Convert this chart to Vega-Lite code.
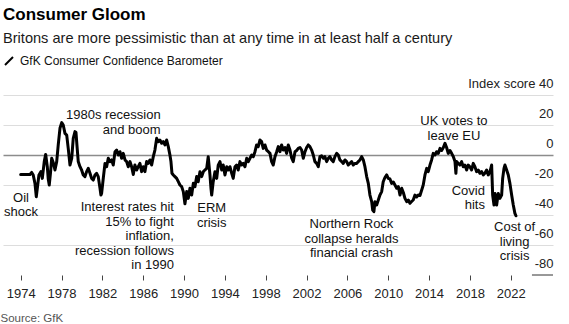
{
  "$schema": "https://vega.github.io/schema/vega-lite/v6.json",
  "width": 550,
  "height": 180,
  "autosize": {"type": "none"},
  "padding": {"left": 3, "top": 95, "right": 16, "bottom": 49},
  "background": "white",
  "config": {
    "font": "Liberation Sans",
    "view": {"stroke": null}
  },
  "title": {
    "text": "Consumer Gloom",
    "subtitle": "Britons are more pessimistic than at any time in at least half a century",
    "anchor": "start",
    "frame": "group",
    "fontSize": 17,
    "fontWeight": "bold",
    "color": "#000000",
    "subtitleFontSize": 14.6,
    "subtitleColor": "#1a1a1a",
    "subtitlePadding": 7,
    "offset": 8
  },
  "datasets": {
    "series": [
      {"year": 1974.0, "index": -13}, {"year": 1974.42, "index": -13}, {"year": 1974.91, "index": -13}, {"year": 1975.08, "index": -11.6}, {"year": 1975.23, "index": -13.3}, {"year": 1975.4, "index": -18.9}, {"year": 1975.53, "index": -27.8}, {"year": 1975.67, "index": -20}, {"year": 1975.79, "index": -13.3}, {"year": 1975.99, "index": -11.1}, {"year": 1976.12, "index": -15.6}, {"year": 1976.31, "index": -4.4}, {"year": 1976.45, "index": 0.4}, {"year": 1976.61, "index": -7.8}, {"year": 1976.7, "index": -16}, {"year": 1976.8, "index": -20}, {"year": 1976.92, "index": -12}, {"year": 1977.04, "index": -2.2}, {"year": 1977.19, "index": -5}, {"year": 1977.36, "index": -10}, {"year": 1977.53, "index": -4.4}, {"year": 1977.68, "index": 6.7}, {"year": 1977.85, "index": 17.8}, {"year": 1978.02, "index": 21.6}, {"year": 1978.17, "index": 20}, {"year": 1978.34, "index": 14.4}, {"year": 1978.51, "index": 13.3}, {"year": 1978.66, "index": 4.4}, {"year": 1978.83, "index": -6.7}, {"year": 1979.0, "index": -2.2}, {"year": 1979.15, "index": 11.1}, {"year": 1979.32, "index": 15.6}, {"year": 1979.42, "index": 15}, {"year": 1979.51, "index": 6.7}, {"year": 1979.64, "index": -4.4}, {"year": 1979.81, "index": -7.8}, {"year": 1979.97, "index": -10}, {"year": 1980.13, "index": -13.3}, {"year": 1980.3, "index": -14.4}, {"year": 1980.46, "index": -11.1}, {"year": 1980.62, "index": -8.9}, {"year": 1980.79, "index": -12.2}, {"year": 1980.95, "index": -15.6}, {"year": 1981.11, "index": -16.7}, {"year": 1981.28, "index": -13.3}, {"year": 1981.44, "index": -12.2}, {"year": 1981.6, "index": -14.4}, {"year": 1981.77, "index": -22.2}, {"year": 1981.86, "index": -26.7},
      {"year": 1981.93, "index": -25.6}, {"year": 1982.1, "index": -15}, {"year": 1982.26, "index": -5.6}, {"year": 1982.42, "index": -7.8}, {"year": 1982.58, "index": -2.2}, {"year": 1982.75, "index": -4.4}, {"year": 1982.91, "index": -3.3}, {"year": 1983.07, "index": -6.7}, {"year": 1983.24, "index": 2.2}, {"year": 1983.4, "index": 3.3}, {"year": 1983.56, "index": 0}, {"year": 1983.73, "index": 2.2}, {"year": 1983.89, "index": -2.2}, {"year": 1984.05, "index": 1.1}, {"year": 1984.22, "index": -3.3}, {"year": 1984.38, "index": -4.4}, {"year": 1984.54, "index": -7.8}, {"year": 1984.71, "index": -4.4}, {"year": 1984.87, "index": -7.8}, {"year": 1985.03, "index": -13}, {"year": 1985.19, "index": -6.7}, {"year": 1985.36, "index": -10}, {"year": 1985.52, "index": -7.8}, {"year": 1985.68, "index": -5.6}, {"year": 1985.85, "index": -11.1}, {"year": 1986.01, "index": -7.8}, {"year": 1986.17, "index": -11.1}, {"year": 1986.34, "index": -4.4}, {"year": 1986.5, "index": -5.6}, {"year": 1986.66, "index": -3.3}, {"year": 1986.83, "index": -6.7}, {"year": 1986.99, "index": -1.1}, {"year": 1987.15, "index": 3.3}, {"year": 1987.32, "index": 11.1}, {"year": 1987.48, "index": 8.9}, {"year": 1987.64, "index": 10}, {"year": 1987.81, "index": 7.8}, {"year": 1987.97, "index": 8.9}, {"year": 1988.13, "index": 6.7}, {"year": 1988.3, "index": 10}, {"year": 1988.46, "index": 5.6}, {"year": 1988.62, "index": 0}, {"year": 1988.72, "index": -4.4}, {"year": 1988.82, "index": -12.2}, {"year": 1988.95, "index": -13.3}, {"year": 1989.11, "index": -14.4}, {"year": 1989.28, "index": -15.6}, {"year": 1989.44, "index": -17.8}, {"year": 1989.6, "index": -20}, {"year": 1989.77, "index": -21.1}, {"year": 1989.93, "index": -24.4},
      {"year": 1990.09, "index": -32.5}, {"year": 1990.26, "index": -24.4}, {"year": 1990.42, "index": -28.9}, {"year": 1990.58, "index": -22.2}, {"year": 1990.75, "index": -26.7}, {"year": 1990.91, "index": -18.9}, {"year": 1991.07, "index": -21.1}, {"year": 1991.24, "index": -14.4}, {"year": 1991.39, "index": -17.8}, {"year": 1991.56, "index": -11.1}, {"year": 1991.73, "index": -14.4}, {"year": 1991.9, "index": -11}, {"year": 1992.05, "index": -10}, {"year": 1992.22, "index": -8.9}, {"year": 1992.37, "index": -1.1}, {"year": 1992.54, "index": -13.3}, {"year": 1992.64, "index": -22.2}, {"year": 1992.71, "index": -26.7}, {"year": 1992.86, "index": -17.8}, {"year": 1993.03, "index": -11.1}, {"year": 1993.2, "index": -15.6}, {"year": 1993.35, "index": -6.7}, {"year": 1993.52, "index": -4.4}, {"year": 1993.69, "index": -10}, {"year": 1993.84, "index": -6.7}, {"year": 1994.01, "index": -13.3}, {"year": 1994.18, "index": -7.8}, {"year": 1994.34, "index": -10}, {"year": 1994.5, "index": -7.8}, {"year": 1994.67, "index": -12.2}, {"year": 1994.82, "index": -15.6}, {"year": 1994.99, "index": -7.8}, {"year": 1995.15, "index": -6.7}, {"year": 1995.31, "index": -10}, {"year": 1995.48, "index": -4.4}, {"year": 1995.64, "index": -6.7}, {"year": 1995.8, "index": -5.6}, {"year": 1995.97, "index": -7.8}, {"year": 1996.14, "index": -2.2}, {"year": 1996.3, "index": -4.4}, {"year": 1996.46, "index": -2.2}, {"year": 1996.63, "index": 0}, {"year": 1996.79, "index": -1.1}, {"year": 1996.95, "index": 2.2}, {"year": 1997.11, "index": 6.7}, {"year": 1997.27, "index": 5.6}, {"year": 1997.44, "index": 10}, {"year": 1997.6, "index": 8.9}, {"year": 1997.76, "index": 4.4}, {"year": 1997.93, "index": 6.7}, {"year": 1998.09, "index": 3.3}, {"year": 1998.26, "index": 2.2}, {"year": 1998.42, "index": 1.1}, {"year": 1998.58, "index": -4.4},
      {"year": 1998.74, "index": -6.7}, {"year": 1998.91, "index": -1.1}, {"year": 1999.07, "index": 2}, {"year": 1999.23, "index": 5.6}, {"year": 1999.4, "index": 2.2}, {"year": 1999.56, "index": 6.7}, {"year": 1999.72, "index": 3.3}, {"year": 1999.89, "index": 5}, {"year": 2000.05, "index": 1.1}, {"year": 2000.21, "index": 6.7}, {"year": 2000.38, "index": 3.3}, {"year": 2000.54, "index": -2}, {"year": 2000.7, "index": -4.4}, {"year": 2000.87, "index": 2.2}, {"year": 2001.03, "index": 3}, {"year": 2001.19, "index": 4.4}, {"year": 2001.36, "index": 5}, {"year": 2001.52, "index": 3.3}, {"year": 2001.68, "index": -2.2}, {"year": 2001.85, "index": 2.2}, {"year": 2002.01, "index": 5}, {"year": 2002.17, "index": 6.7}, {"year": 2002.33, "index": 5.6}, {"year": 2002.5, "index": 3.3}, {"year": 2002.66, "index": 0}, {"year": 2002.82, "index": -4.4}, {"year": 2002.99, "index": -5.6}, {"year": 2003.15, "index": -7.8}, {"year": 2003.31, "index": -1.1}, {"year": 2003.48, "index": -0.5}, {"year": 2003.64, "index": -2.2}, {"year": 2003.8, "index": -1.1}, {"year": 2003.97, "index": -4.4}, {"year": 2004.13, "index": -2.2}, {"year": 2004.29, "index": -1.1}, {"year": 2004.46, "index": -3.3}, {"year": 2004.62, "index": -4.4}, {"year": 2004.78, "index": -1.1}, {"year": 2004.95, "index": 1.1}, {"year": 2005.11, "index": 0}, {"year": 2005.27, "index": -3.3}, {"year": 2005.44, "index": -4.4}, {"year": 2005.6, "index": -5.6}, {"year": 2005.76, "index": -3.3}, {"year": 2005.93, "index": -4.4}, {"year": 2006.09, "index": -6.7}, {"year": 2006.25, "index": -5.6}, {"year": 2006.42, "index": -4.4}, {"year": 2006.58, "index": -6.7}, {"year": 2006.74, "index": -5.6},
      {"year": 2006.91, "index": -5.6}, {"year": 2007.07, "index": -4.4}, {"year": 2007.23, "index": -3.3}, {"year": 2007.4, "index": -1.1}, {"year": 2007.56, "index": -3.3}, {"year": 2007.72, "index": -7.8}, {"year": 2007.89, "index": -14.4}, {"year": 2008.05, "index": -18.9}, {"year": 2008.21, "index": -26.7}, {"year": 2008.38, "index": -31.1}, {"year": 2008.48, "index": -36.7}, {"year": 2008.6, "index": -37.8}, {"year": 2008.7, "index": -31.1}, {"year": 2008.87, "index": -33.3}, {"year": 2009.03, "index": -30}, {"year": 2009.19, "index": -26.7}, {"year": 2009.36, "index": -24.4}, {"year": 2009.51, "index": -17.8}, {"year": 2009.68, "index": -15}, {"year": 2009.85, "index": -13.3}, {"year": 2010.0, "index": -15.6}, {"year": 2010.17, "index": -16}, {"year": 2010.34, "index": -18.9}, {"year": 2010.5, "index": -18}, {"year": 2010.66, "index": -20}, {"year": 2010.83, "index": -22.2}, {"year": 2010.99, "index": -21}, {"year": 2011.15, "index": -26.7}, {"year": 2011.32, "index": -22.2}, {"year": 2011.48, "index": -25}, {"year": 2011.64, "index": -28.9}, {"year": 2011.81, "index": -31.1}, {"year": 2011.97, "index": -30}, {"year": 2012.13, "index": -32.2}, {"year": 2012.29, "index": -31}, {"year": 2012.45, "index": -30}, {"year": 2012.62, "index": -26.7}, {"year": 2012.78, "index": -28}, {"year": 2012.94, "index": -26.7}, {"year": 2013.11, "index": -27}, {"year": 2013.28, "index": -23.3}, {"year": 2013.43, "index": -20}, {"year": 2013.6, "index": -13.3}, {"year": 2013.77, "index": -8.9}, {"year": 2013.92, "index": -11.1}, {"year": 2014.09, "index": -6.7}, {"year": 2014.25, "index": -3.3}, {"year": 2014.41, "index": 1.1}, {"year": 2014.58, "index": 0}, {"year": 2014.74, "index": 2.2}, {"year": 2014.9, "index": 1}, {"year": 2015.07, "index": 4.4}, {"year": 2015.23, "index": 3}, {"year": 2015.4, "index": 5}, {"year": 2015.56, "index": 7.8},
      {"year": 2015.72, "index": 5}, {"year": 2015.88, "index": 1.1}, {"year": 2016.05, "index": 3}, {"year": 2016.21, "index": 1.1}, {"year": 2016.37, "index": -1}, {"year": 2016.54, "index": -4.4}, {"year": 2016.63, "index": -12.2}, {"year": 2016.7, "index": -4.4}, {"year": 2016.86, "index": -5.6}, {"year": 2017.02, "index": -6.7}, {"year": 2017.19, "index": -4.4}, {"year": 2017.35, "index": -7.8}, {"year": 2017.51, "index": -6.7}, {"year": 2017.68, "index": -10}, {"year": 2017.84, "index": -6.7}, {"year": 2018.0, "index": -7.8}, {"year": 2018.17, "index": -10}, {"year": 2018.33, "index": -5.6}, {"year": 2018.49, "index": -7.8}, {"year": 2018.66, "index": -11.1}, {"year": 2018.82, "index": -10}, {"year": 2018.98, "index": -12.2}, {"year": 2019.15, "index": -11.1}, {"year": 2019.31, "index": -13.3}, {"year": 2019.47, "index": -12.2}, {"year": 2019.64, "index": -10}, {"year": 2019.8, "index": -13.3}, {"year": 2019.97, "index": -11.1}, {"year": 2020.13, "index": -6.7}, {"year": 2020.23, "index": -26.7}, {"year": 2020.36, "index": -33.3}, {"year": 2020.46, "index": -25.6}, {"year": 2020.62, "index": -33.3}, {"year": 2020.78, "index": -25.6}, {"year": 2020.94, "index": -28.9}, {"year": 2021.11, "index": -26.7}, {"year": 2021.21, "index": -15.6}, {"year": 2021.34, "index": -8.9}, {"year": 2021.43, "index": -6.7}, {"year": 2021.6, "index": -10}, {"year": 2021.76, "index": -13.3}, {"year": 2021.92, "index": -18.9}, {"year": 2022.09, "index": -26.7}, {"year": 2022.25, "index": -33.3}, {"year": 2022.41, "index": -38.9}, {"year": 2022.51, "index": -40.5}
    ],
    "notesCenter": [
      {"year": 1974.03, "index": -31.1, "note": "Oil\nshock"},
      {"year": 1992.71, "index": -38, "note": "ERM\ncrisis"},
      {"year": 2006.4, "index": -48.7, "note": "Northern Rock\ncollapse heralds\nfinancial crash"},
      {"year": 2016.44, "index": 19.7, "note": "UK votes to\nleave EU"},
      {"year": 2022.38, "index": -50.9, "note": "Cost of\nliving\ncrisis"}
    ],
    "notesRight": [
      {"year": 1987.71, "index": 24, "note": "1980s recession\nand boom"},
      {"year": 1989.01, "index": -37.6, "note": "Interest rates hit\n15% to fight\ninflation,\nrecession follows\nin 1990"},
      {"year": 2019.47, "index": -26.5, "note": "Covid\nhits"}
    ],
    "baseSegment": [
      {"year": 2024.08, "yearEnd": 2026.14, "index": -80}
    ]
  },
  "encoding": {
    "x": {
      "field": "year",
      "type": "quantitative",
      "scale": {"domain": [1972.27, 2026.14], "nice": false, "zero": false},
      "axis": {
        "values": [1974, 1978, 1982, 1986, 1990, 1994, 1998, 2002, 2006, 2010, 2014, 2018, 2022],
        "format": "d",
        "grid": false,
        "domain": false,
        "tickSize": 5,
        "tickColor": "#444444",
        "labelFontSize": 13,
        "labelColor": "#222222",
        "labelPadding": 7,
        "labelFlush": false,
        "labelOverlap": false,
        "title": "Source: GfK",
        "titleFontSize": 11.5,
        "titleFontWeight": "normal",
        "titleColor": "#555555",
        "titleAnchor": "start",
        "titleAlign": "left",
        "titleBaseline": "alphabetic",
        "titleX": -3,
        "titleY": 46
      }
    },
    "y": {
      "field": "index",
      "type": "quantitative",
      "scale": {"domain": [-80, 40], "nice": false, "zero": false},
      "axis": {
        "orient": "right",
        "values": [-80, -60, -40, -20, 0, 20, 40],
        "tickCount": 7,
        "domain": false,
        "ticks": false,
        "labelAlign": "right",
        "labelBaseline": "alphabetic",
        "labelPadding": 0,
        "labelOffset": -8,
        "labelFontSize": 13,
        "labelColor": "#222222",
        "labelOverlap": false,
        "labelBound": false,
        "labelExpr": "datum.value === 40 ? 'Index score 40' : toString(datum.value)",
        "grid": true,
        "gridColor": {"condition": {"test": "datum.value === 0", "value": "#8c8c8c"}, "value": "#dddddd"},
        "gridOpacity": {"condition": {"test": "datum.value === -80", "value": 0}, "value": 1},
        "gridWidth": {"condition": {"test": "datum.value === 0", "value": 1.5}, "value": 1},
        "title": null
      }
    }
  },
  "layer": [
    {
      "data": {"name": "series"},
      "mark": {"type": "line", "strokeWidth": 3, "strokeJoin": "round", "strokeCap": "round"},
      "encoding": {
        "color": {
          "datum": "GfK Consumer Confidence Barometer",
          "type": "nominal",
          "scale": {"range": ["#000000"]},
          "legend": {
            "orient": "none",
            "legendX": 0,
            "legendY": -40,
            "title": null,
            "padding": 0,
            "symbolType": "M-0.8,0.8L0.8,-0.8",
            "symbolSize": 100,
            "symbolStrokeWidth": 2,
            "symbolStrokeColor": "#000000",
            "labelFontSize": 12,
            "labelLimit": 0,
            "labelColor": "#111111",
            "labelOffset": 5
          }
        }
      }
    },
    {
      "data": {"name": "baseSegment"},
      "mark": {"type": "rule", "color": "#333333", "strokeWidth": 1},
      "encoding": {
        "x2": {"field": "yearEnd"}
      }
    },
    {
      "data": {"name": "notesCenter"},
      "mark": {"type": "text", "align": "center", "baseline": "alphabetic", "fontSize": 13, "lineHeight": 14.5, "lineBreak": "\n", "color": "#111111"},
      "encoding": {
        "text": {"field": "note", "type": "nominal"}
      }
    },
    {
      "data": {"name": "notesRight"},
      "mark": {"type": "text", "align": "right", "baseline": "alphabetic", "fontSize": 13, "lineHeight": 14.5, "lineBreak": "\n", "color": "#111111"},
      "encoding": {
        "text": {"field": "note", "type": "nominal"}
      }
    }
  ]
}
